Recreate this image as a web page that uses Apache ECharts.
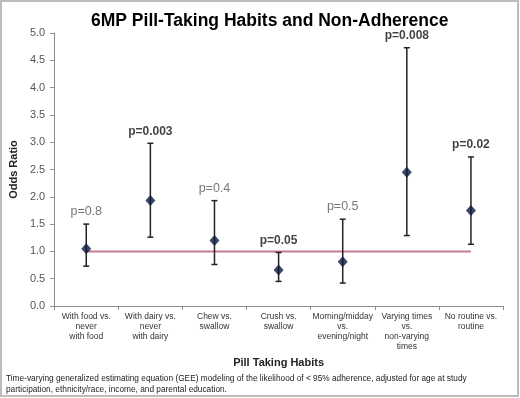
<!DOCTYPE html>
<html>
<head>
<meta charset="utf-8">
<script src="https://cdn.jsdelivr.net/npm/echarts@6/dist/echarts.min.js"></script>
<style>
html,body{margin:0;padding:0;background:#fff;}
#c{width:520px;height:398px;}
</style>
</head>
<body>
<div id="c"></div>
<script>
const categories = [
  "With food vs.\nnever\nwith food",
  "With dairy vs.\nnever\nwith dairy",
  "Chew vs.\nswallow",
  "Crush vs.\nswallow",
  "Morning/midday\nvs.\nevening/night",
  "Varying times\nvs.\nnon-varying\ntimes",
  "No routine vs.\nroutine"
];
const oddsRatio = [1.05, 1.93, 1.2, 0.66, 0.81, 2.45, 1.75];
const lowerCI   = [0.73, 1.26, 0.76, 0.45, 0.42, 1.29, 1.13];
const upperCI   = [1.50, 2.98, 1.93, 0.98, 1.59, 4.73, 2.73];
const pLabels   = ["p=0.8", "p=0.003", "p=0.4", "p=0.05", "p=0.5", "p=0.008", "p=0.02"];
const pBold     = [false, true, false, true, false, true, true];
const refLine   = [1, 1, 1, 1, 1, 1, 1];
const yTicks    = [0, 0.5, 1, 1.5, 2, 2.5, 3, 3.5, 4, 4.5, 5];

const chart = echarts.init(document.getElementById('c'), null, {renderer: 'canvas'});
const font = "'Liberation Sans', Arial, sans-serif";

const errData = categories.map((c, i) => [i, lowerCI[i], upperCI[i]]);
const labelData = categories.map((c, i) => ({
  value: [i, upperCI[i]],
  label: {
    formatter: pLabels[i],
    fontWeight: pBold[i] ? 'bold' : 'normal',
    color: pBold[i] ? '#111' : '#555',
    fontSize: pBold[i] ? 12 : 12.5
  }
}));

chart.setOption({
  animation: false,
  textStyle: {fontFamily: font},
  title: {
    text: '6MP Pill-Taking Habits and Non-Adherence',
    left: 86, top: 7,
    textStyle: {fontFamily: font, fontSize: 17.5, fontWeight: 'bold', color: '#000'}
  },
  graphic: [
    {type: 'rect', shape: {x: 1, y: 1, width: 517, height: 395}, style: {fill: 'none', stroke: '#bdbdbd', lineWidth: 2}, z: 100},
    {type: 'text', left: 6, top: 373, style: {
      text: 'Time-varying generalized estimating equation (GEE) modeling of the likelihood of < 95% adherence, adjusted for age at study\nparticipation, ethnicity/race, income, and parental education.',
      font: "8.3px 'Liberation Sans', Arial, sans-serif", fill: '#222', lineHeight: 11
    }}
  ],
  grid: {left: 49, right: 17, top: 33, bottom: 92},
  xAxis: {
    type: 'category',
    data: categories,
    boundaryGap: true,
    name: 'Pill Taking Habits',
    nameLocation: 'middle',
    nameGap: 51,
    nameTextStyle: {fontFamily: font, fontSize: 11, fontWeight: 'bold', color: '#222'},
    axisLine: {lineStyle: {color: '#8c8c8c'}},
    axisTick: {show: true, length: 4, lineStyle: {color: '#8c8c8c'}},
    axisLabel: {interval: 0, fontSize: 8.5, color: '#333', lineHeight: 10, margin: 6, fontFamily: font}
  },
  yAxis: {
    type: 'value',
    min: 0, max: 5, interval: 0.5,
    name: 'Odds Ratio',
    nameLocation: 'middle',
    nameGap: 33,
    nameTextStyle: {fontFamily: font, fontSize: 11, fontWeight: 'bold', color: '#222'},
    axisLine: {show: true, lineStyle: {color: '#8c8c8c'}},
    axisTick: {show: true, length: 4, lineStyle: {color: '#8c8c8c'}},
    splitLine: {show: false},
    axisLabel: {fontSize: 11, color: '#555', formatter: v => v.toFixed(1), margin: 9, fontFamily: font}
  },
  series: [
    {
      type: 'line', data: refLine, symbol: 'none',
      lineStyle: {color: '#c77b8c', width: 2}, z: 1
    },
    {
      type: 'custom',
      data: errData,
      z: 2,
      renderItem: function (params, api) {
        const x = api.value(0);
        const lo = api.coord([x, api.value(1)]);
        const hi = api.coord([x, api.value(2)]);
        const hw = 3;
        const st = {stroke: '#222', lineWidth: 1.5};
        return {type: 'group', children: [
          {type: 'line', shape: {x1: lo[0], y1: lo[1], x2: hi[0], y2: hi[1]}, style: st},
          {type: 'line', shape: {x1: lo[0]-hw, y1: lo[1], x2: lo[0]+hw, y2: lo[1]}, style: st},
          {type: 'line', shape: {x1: hi[0]-hw, y1: hi[1], x2: hi[0]+hw, y2: hi[1]}, style: st}
        ]};
      }
    },
    {
      type: 'scatter', data: oddsRatio, symbol: 'diamond', symbolSize: [10, 11],
      itemStyle: {color: '#0b1a3c'}, z: 3
    },
    {
      type: 'scatter', data: labelData, symbolSize: 2, symbol: 'circle', z: 4,
      itemStyle: {color: 'rgba(0,0,0,0)'},
      label: {show: true, position: 'top', distance: 5, fontFamily: font}
    }
  ]
});
</script>
</body>
</html>
